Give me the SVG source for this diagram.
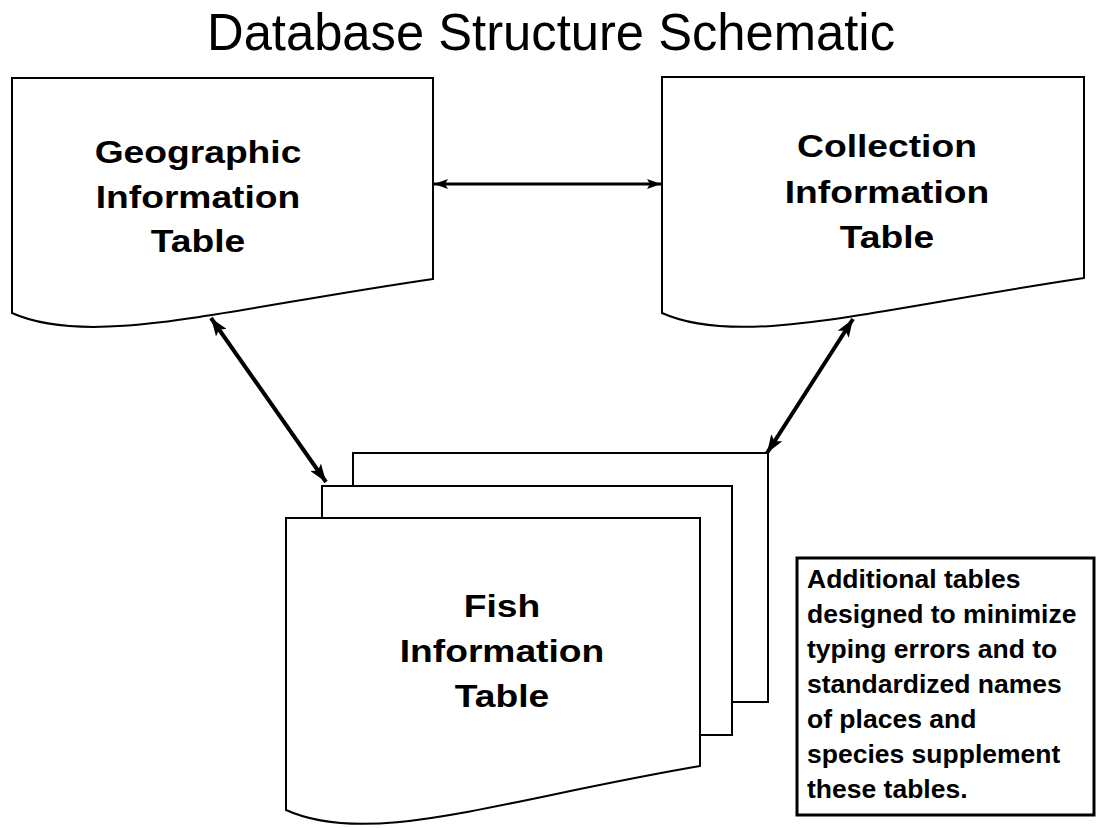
<svg xmlns="http://www.w3.org/2000/svg" width="1097" height="828" viewBox="0 0 1097 828">
<style>
.bg{fill:#ffffff}
.sheet{fill:#ffffff;stroke:#000000;stroke-width:2}
.lbl{font-family:"Liberation Sans",Arial,sans-serif;font-weight:bold;font-size:31px;fill:#000000;text-anchor:middle}
.note{font-family:"Liberation Sans",Arial,sans-serif;font-weight:bold;font-size:26.5px;fill:#000000}
.title{font-family:"Liberation Sans",Arial,sans-serif;font-size:52px;fill:#000000}
.conn{fill:none;stroke:#000000;stroke-width:4}
.connh{fill:none;stroke:#000000;stroke-width:3}
</style>
<defs>
<marker id="ah" viewBox="0 0 18 13" refX="18" refY="6.5" markerWidth="18" markerHeight="13" markerUnits="userSpaceOnUse" orient="auto-start-reverse">
<path d="M0,0 L18,6.5 L0,13 L4,6.5 Z" fill="#000000"/>
</marker>
<marker id="ahs" viewBox="0 0 14 10" refX="14" refY="5" markerWidth="14" markerHeight="10" markerUnits="userSpaceOnUse" orient="auto-start-reverse">
<path d="M0,0 L14,5 L0,10 L3,5 Z" fill="#000000"/>
</marker>
</defs>
<rect class="bg" x="0" y="0" width="1097" height="828"/>
<text class="title" x="207" y="50" textLength="688" lengthAdjust="spacingAndGlyphs">Database Structure Schematic</text>

<g id="geographic">
<path class="sheet" d="M12,78 H433 V279 C220,310 90,348 12,313 Z"/>
<g transform="translate(198,0) scale(1.2,1)">
<text class="lbl" x="0" y="163">Geographic</text>
<text class="lbl" x="0" y="208">Information</text>
<text class="lbl" x="0" y="252">Table</text>
</g>
</g>

<g id="collection">
<path class="sheet" d="M662,77 H1084 V278 C870,310 740,348 662,313 Z"/>
<g transform="translate(887,0) scale(1.2,1)">
<text class="lbl" x="0" y="157">Collection</text>
<text class="lbl" x="0" y="203">Information</text>
<text class="lbl" x="0" y="248">Table</text>
</g>
</g>

<g id="fish">
<rect class="sheet" x="353" y="453" width="415" height="249"/>
<rect class="sheet" x="322" y="486" width="410" height="249"/>
<path class="sheet" d="M286,518 H700 V766 C500,800 370,848 286,810 Z"/>
<g transform="translate(502,0) scale(1.2,1)">
<text class="lbl" x="0" y="617">Fish</text>
<text class="lbl" x="0" y="662">Information</text>
<text class="lbl" x="0" y="707">Table</text>
</g>
</g>

<g id="note">
<rect x="797" y="558" width="297" height="257" fill="#ffffff" stroke="#000000" stroke-width="3"/>
<text class="note" x="807" y="588">Additional tables</text>
<text class="note" x="807" y="623">designed to minimize</text>
<text class="note" x="807" y="658">typing errors and to</text>
<text class="note" x="807" y="693">standardized names</text>
<text class="note" x="807" y="728">of places and</text>
<text class="note" x="807" y="763">species supplement</text>
<text class="note" x="807" y="798">these tables.</text>
</g>

<g id="connectors">
<line class="connh" x1="434" y1="184" x2="661" y2="184" marker-start="url(#ahs)" marker-end="url(#ahs)"/>
<line class="conn" x1="211" y1="318" x2="326" y2="482" marker-start="url(#ah)" marker-end="url(#ah)"/>
<line class="conn" x1="853" y1="319" x2="767" y2="453" marker-start="url(#ah)" marker-end="url(#ah)"/>
</g>
</svg>
